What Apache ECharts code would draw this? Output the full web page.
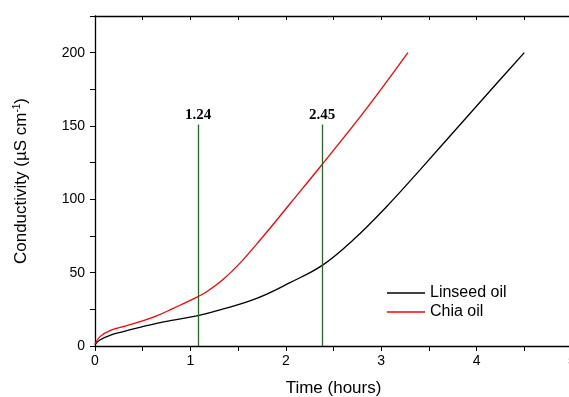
<!DOCTYPE html>
<html>
<head>
<meta charset="utf-8">
<script src="https://cdn.jsdelivr.net/npm/echarts@6/dist/echarts.min.js"></script>
<style>html,body{margin:0;padding:0;background:#fff}#c{width:569px;height:397px}</style>
</head>
<body>
<div id="c"></div>
<script>
const linseedTime = [0, 0.05, 0.157, 0.297, 0.472, 0.646, 0.821, 1.08, 1.31, 1.695, 2.044, 2.39, 2.708, 3.058, 3.407, 3.896, 4.245, 4.50];
const linseedValues = [1, 4.1, 7.3, 9.8, 12.7, 15.5, 17.7, 20.7, 24.6, 32.5, 43.2, 55.3, 72.4, 95.1, 120.1, 156, 181.5, 200];
const chiaTime = [0, 0.052, 0.157, 0.297, 0.472, 0.646, 0.821, 1.08, 1.171, 1.345, 1.52, 1.695, 1.869, 2.044, 2.37, 2.848, 3.28];
const chiaValues = [1.4, 6.4, 10.5, 13.2, 16.6, 20.5, 25.7, 33.7, 37, 45.5, 56.5, 69.5, 83, 97, 122.9, 162, 200];
const markerTime = [1.08, 2.38];
const markerTop = [151, 151];
const markerLabels = ['1.24', '2.45'];
const seriesNames = ['Linseed oil', 'Chia oil'];

const font = 'Liberation Sans, Arial, sans-serif';
const zip = (a, b) => a.map((t, i) => [t, b[i]]);

const chart = echarts.init(document.getElementById('c'), null, {renderer: 'canvas'});
chart.setOption({
  animation: false,
  backgroundColor: '#fff',
  grid: {left: 95, top: 16, width: 477, bottom: 51, containLabel: false, outerBoundsMode: 'none'},
  legend: {
    data: seriesNames,
    orient: 'vertical',
    left: 387, top: 284,
    icon: 'rect', itemWidth: 38, itemHeight: 1.5, itemGap: 1,
    textStyle: {fontFamily: font, fontSize: 16, color: '#000', lineHeight: 18, padding: [0, 0, 0, 0]},
    padding: 0
  },
  xAxis: [{
    type: 'value', min: 0, max: 5, interval: 1,
    position: 'bottom',
    axisLine: {show: true, lineStyle: {color: '#000', width: 1.3}},
    axisTick: {show: true, inside: false, length: 5, lineStyle: {color: '#000'}},
    minorTick: {show: true, splitNumber: 2, length: 5, lineStyle: {color: '#000'}},
    splitLine: {show: false},
    axisLabel: {fontFamily: font, fontSize: 14, color: '#000', margin: 8, showMaxLabel: true, hideOverlap: false},
    name: 'Time (hours)', nameLocation: 'middle', nameGap: 34,
    nameTextStyle: {fontFamily: font, fontSize: 17, color: '#000'}
  }, {
    type: 'value', min: 0, max: 5, interval: 1,
    position: 'top',
    axisLine: {show: true, lineStyle: {color: '#000', width: 1.3}},
    axisTick: {show: true, inside: true, length: 4, lineStyle: {color: '#000'}},
    minorTick: {show: true, splitNumber: 2, length: 4, lineStyle: {color: '#000'}},
    splitLine: {show: false},
    axisLabel: {show: false}
  }],
  yAxis: {
    type: 'value', min: 0, max: 225, interval: 50,
    axisLine: {show: true, lineStyle: {color: '#000', width: 1.3}},
    axisTick: {show: true, inside: false, length: 5, lineStyle: {color: '#000'}},
    minorTick: {show: true, splitNumber: 2, length: 5, lineStyle: {color: '#000'}},
    splitLine: {show: false},
    axisLabel: {fontFamily: font, fontSize: 14, color: '#000', margin: 10,
      formatter: v => (v % 50 === 0 ? String(v) : '')},
    name: '{a|Conductivity (µS cm}{s|-1}{a|)}',
    nameLocation: 'middle', nameGap: 64, nameRotate: 90,
    nameTextStyle: {fontFamily: font, fontSize: 17, color: '#000',
      rich: {
        a: {fontFamily: font, fontSize: 17, color: '#000'},
        s: {fontFamily: font, fontSize: 10, color: '#000', verticalAlign: 'top', padding: [0, 0, 9, 0]}
      }}
  },
  series: [{
    name: seriesNames[0], type: 'line', smooth: 0.4, showSymbol: false, symbol: 'none',
    data: zip(linseedTime, linseedValues),
    lineStyle: {color: '#000', width: 1.3}, itemStyle: {color: '#000'}, z: 3
  }, {
    name: seriesNames[1], type: 'line', smooth: 0.4, showSymbol: false, symbol: 'none',
    data: zip(chiaTime, chiaValues),
    lineStyle: {color: '#ff0000', width: 1.3}, itemStyle: {color: '#ff0000'}, z: 3
  }, {
    name: 'markers', type: 'line', data: [], z: 2,
    markLine: {
      silent: true, symbol: 'none', animation: false,
      lineStyle: {color: '#0b7a0b', width: 1.3, type: 'solid'},
      label: {show: true, position: 'end', distance: 2,
        fontFamily: 'Liberation Serif, Times New Roman, serif', fontWeight: 'bold', fontSize: 15, color: '#000'},
      data: markerTime.map((t, i) => [
        {coord: [t, 0]},
        {coord: [t, markerTop[i]], label: {formatter: markerLabels[i]}}
      ])
    }
  }]
});
</script>
</body>
</html>
